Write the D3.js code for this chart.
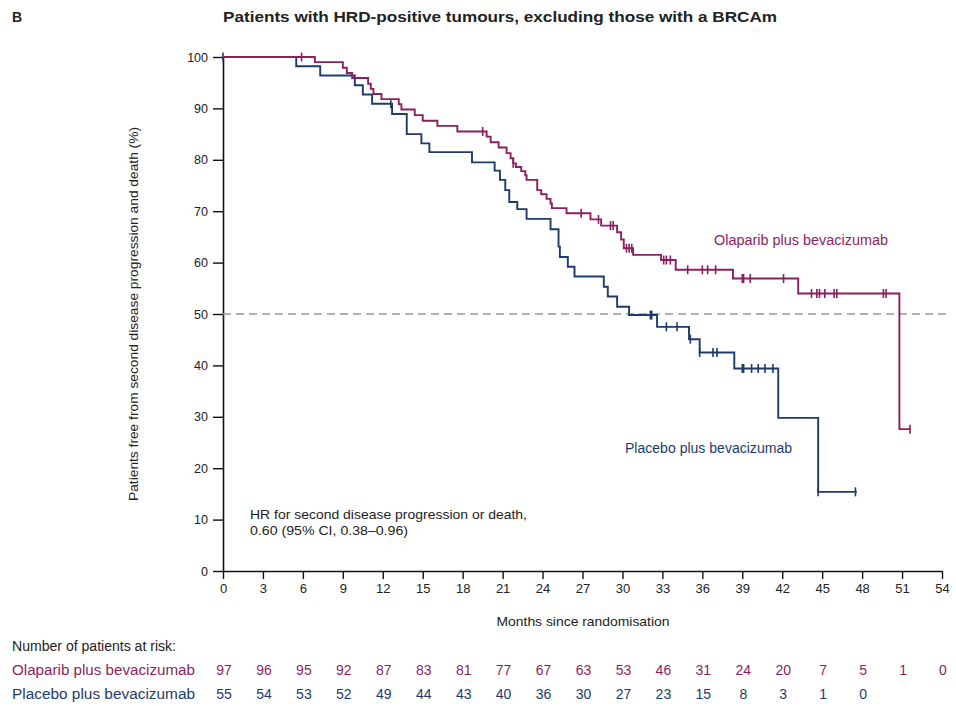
<!DOCTYPE html>
<html>
<head>
<meta charset="utf-8">
<script src="https://cdn.jsdelivr.net/npm/d3@7/dist/d3.min.js"></script>
<style>
  html, body { margin: 0; padding: 0; background: #fff; }
  svg { display: block; font-family: "Liberation Sans", Arial, sans-serif; }
  .narrow { font-family: "Liberation Sans Narrow", "Arial Narrow", "Liberation Sans", Arial, sans-serif; }
</style>
</head>
<body>
<svg id="chart" width="956" height="706"></svg>
<script>
// Kaplan–Meier steps: [month, % free from second progression or death]
const olaparibSteps = [
  [0, 100], [6.9, 99.0], [9.0, 97.9], [9.3, 96.9], [9.7, 95.9], [10.9, 94.8],
  [11.1, 93.8], [11.3, 92.8], [11.9, 91.8], [13.2, 90.8], [13.4, 89.8],
  [14.4, 88.7], [15.0, 87.6], [16.1, 86.6], [17.6, 85.5], [19.8, 84.5],
  [20.1, 83.4], [20.7, 82.4], [21.3, 81.3], [21.6, 80.3], [21.8, 79.3],
  [22.0, 78.6], [22.4, 77.8], [22.7, 77.0], [22.8, 76.1], [23.6, 74.1],
  [23.9, 73.3], [24.3, 72.4], [24.6, 71.5], [24.7, 70.6], [25.8, 69.6],
  [27.6, 68.4], [28.4, 67.2], [29.6, 65.9], [29.9, 64.5], [30.1, 62.8],
  [30.8, 61.5], [32.9, 60.5], [34.0, 58.6], [38.3, 56.9], [43.2, 54.0],
  [50.8, 27.6]
];
const olaparibEnd = 51.6;
const olaparibCensored = [
  5.9, 19.5, 21.8, 26.9, 28.2, 29.1, 29.3, 30.3, 30.5, 30.7, 33.1, 33.3, 33.6,
  34.9, 36.0, 36.4, 37.0, 39.0, 39.1, 39.6, 42.1, 44.2, 44.6, 44.8, 45.2,
  45.9, 46.1, 49.6, 49.8, 51.6
];

const placeboSteps = [
  [0, 100], [5.5, 98.2], [7.3, 96.4], [9.9, 94.5], [10.5, 92.7], [11.2, 90.9],
  [12.7, 88.9], [13.8, 85.0], [14.9, 83.2], [15.5, 81.5], [18.7, 79.5],
  [20.4, 77.9], [20.8, 76.1], [21.2, 74.1], [21.5, 71.8], [22.1, 70.4],
  [22.8, 68.5], [24.6, 66.5], [25.2, 63.1], [25.3, 61.1], [25.9, 59.2],
  [26.4, 57.3], [28.6, 55.3], [28.9, 53.4], [29.6, 51.4], [30.5, 49.8],
  [32.6, 47.5], [35.0, 45.1], [35.8, 42.5], [38.4, 39.4], [41.7, 29.8],
  [44.7, 15.4]
];
const placeboEnd = 47.6;
const placeboCensored = [
  0, 12.6, 32.1, 32.2, 33.3, 34.1, 35.1, 35.8, 36.8, 37.1, 39.0, 39.1, 39.7,
  40.2, 40.7, 41.3, 44.7, 47.5
];

const monthTicks = d3.range(0, 55, 3);
const percentTicks = d3.range(0, 101, 10);
const olaparibAtRisk = [97, 96, 95, 92, 87, 83, 81, 77, 67, 63, 53, 46, 31, 24, 20, 7, 5, 1, 0];
const placeboAtRisk = [55, 54, 53, 52, 49, 44, 43, 40, 36, 30, 27, 23, 15, 8, 3, 1, 0];

const olaparibColor = "#8b1f5f";
const placeboColor = "#1f3a6c";

const svg = d3.select("#chart");
const x = d3.scaleLinear().domain([0, 54]).range([223, 942]);
const y = d3.scaleLinear().domain([0, 100]).range([571, 57]);

// Text helper with a fixed rendered width
function label(xPos, yPos, str, opts) {
  const t = svg.append("text").attr("x", xPos).attr("y", yPos)
    .attr("font-size", opts.size).attr("fill", opts.color || "#222").text(str);
  if (opts.cls) t.attr("class", opts.cls);
  if (opts.anchor) t.attr("text-anchor", opts.anchor);
  if (opts.bold) t.attr("font-weight", "bold");
  if (opts.width) t.attr("textLength", opts.width).attr("lengthAdjust", "spacingAndGlyphs");
  return t;
}

// Panel letter and title
label(12, 22, "B", { size: 14, bold: true });
label(500, 22, "Patients with HRD-positive tumours, excluding those with a BRCAm",
  { size: 15, bold: true, anchor: "middle", width: 554, cls: "narrow" });

// Axes
const xAxis = svg.append("g").attr("transform", "translate(0,571)")
  .call(d3.axisBottom(x).tickValues(monthTicks).tickSize(8).tickPadding(5).tickSizeOuter(0));
const yAxis = svg.append("g").attr("transform", "translate(223,0)")
  .call(d3.axisLeft(y).tickValues(percentTicks).tickSize(10).tickPadding(5).tickSizeOuter(0));
[xAxis, yAxis].forEach(g => {
  g.select(".domain").attr("stroke", "#111").attr("stroke-width", 1.6);
  g.selectAll(".tick line").attr("stroke", "#111").attr("stroke-width", 1.4);
  g.selectAll(".tick text").attr("fill", "#222").attr("font-size", 12.5)
    .attr("font-family", "\"Liberation Sans\", Arial, sans-serif");
});
xAxis.selectAll(".tick text").attr("class", "narrow")
  .attr("font-family", null).attr("font-size", 13);

label(583, 626, "Months since randomisation",
  { size: 13.5, anchor: "middle", width: 173, cls: "narrow" });
svg.append("text")
  .attr("transform", "translate(138,314) rotate(-90)")
  .attr("text-anchor", "middle").attr("font-size", 13).attr("fill", "#222")
  .attr("textLength", 374).attr("lengthAdjust", "spacingAndGlyphs")
  .text("Patients free from second disease progression and death (%)");

// Median reference line
svg.append("line")
  .attr("x1", x(0)).attr("x2", x(54) + 6).attr("y1", y(50)).attr("y2", y(50))
  .attr("stroke", "#9a9a9a").attr("stroke-width", 1.6).attr("stroke-dasharray", "8,5");

// Survival curves
const stepLine = d3.line().x(d => x(d[0])).y(d => y(d[1])).curve(d3.curveStepAfter);
function valueAt(steps, t) {
  let v = steps[0][1];
  for (const s of steps) { if (s[0] <= t) v = s[1]; }
  return v;
}
function drawArm(steps, end, censored, color) {
  const pts = steps.concat([[end, steps[steps.length - 1][1]]]);
  svg.append("path").datum(pts).attr("d", stepLine)
    .attr("fill", "none").attr("stroke", color).attr("stroke-width", 1.9);
  svg.append("g").selectAll("line").data(censored).join("line")
    .attr("x1", d => x(d)).attr("x2", d => x(d))
    .attr("y1", d => y(valueAt(steps, d)) - 4.5)
    .attr("y2", d => y(valueAt(steps, d)) + 4.5)
    .attr("stroke", color).attr("stroke-width", 1.6);
}
drawArm(placeboSteps, placeboEnd, placeboCensored, placeboColor);
drawArm(olaparibSteps, olaparibEnd, olaparibCensored, olaparibColor);

// Curve labels
label(714, 245, "Olaparib plus bevacizumab", { size: 14, color: olaparibColor, width: 174 });
label(625, 453, "Placebo plus bevacizumab", { size: 14, color: placeboColor, width: 167 });

// Hazard ratio annotation
label(250, 519, "HR for second disease progression or death,", { size: 13.5, width: 277 });
label(250, 535, "0.60 (95% CI, 0.38\u20130.96)", { size: 13.5, width: 158 });

// Number at risk table
label(12, 651, "Number of patients at risk:", { size: 14, width: 164, cls: "narrow" });
function riskRow(values, name, color, yPos) {
  label(12, yPos, name, { size: 14, color: color, width: 183, cls: "narrow" });
  svg.append("g").selectAll("text").data(values).join("text")
    .attr("class", "narrow")
    .attr("x", (d, i) => x(monthTicks[i]) + 1).attr("y", yPos)
    .attr("text-anchor", "middle").attr("font-size", 14).attr("fill", color)
    .text(d => d);
}
riskRow(olaparibAtRisk, "Olaparib plus bevacizumab", olaparibColor, 675);
riskRow(placeboAtRisk, "Placebo plus bevacizumab", placeboColor, 699);
</script>
</body>
</html>
